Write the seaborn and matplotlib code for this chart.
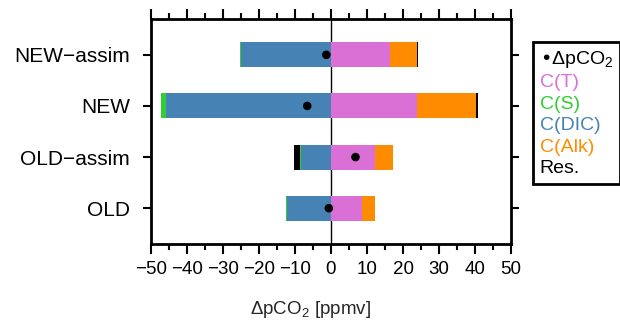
import numpy as np
import pandas as pd
import matplotlib
matplotlib.use("Agg")
import matplotlib.pyplot as plt
import seaborn as sns
from matplotlib.lines import Line2D
from matplotlib.ticker import MultipleLocator

# experiments, top to bottom
runs = ["NEW\u2212assim", "NEW", "OLD\u2212assim", "OLD"]
c_T = [16.3, 23.8, 12.3, 8.5]
c_S = [-0.3, -1.3, -0.4, -0.3]
c_DIC = [-24.9, -45.9, -8.2, -12.2]
c_Alk = [7.5, 16.4, 4.8, 3.6]
res = [0.3, 0.7, -1.6, 0.0]
dpco2 = [-1.3, -6.6, 6.8, -0.6]

col_T = "#DA70D6"
col_S = "#32CD32"
col_DIC = "#4682B4"
col_Alk = "#FF8C00"
col_res = "black"

df = pd.DataFrame({"run": runs, "T": c_T, "S": c_S, "DIC": c_DIC,
                   "Alk": c_Alk, "Res": res, "dpco2": dpco2})
# cumulative ends for overlaid bars (positive and negative sides)
df["pos_T"] = df["T"]
df["pos_Alk"] = df["T"] + df["Alk"]
df["pos_Res"] = df["pos_Alk"] + df["Res"].clip(lower=0)
df["neg_DIC"] = df["DIC"]
df["neg_S"] = df["DIC"] + df["S"]
df["neg_Res"] = df["neg_S"] + df["Res"].clip(upper=0)

sns.set_theme(style="ticks")
plt.rcParams["font.family"] = ["Liberation Sans", "DejaVu Sans"]
plt.rcParams["mathtext.default"] = "regular"

fig = plt.figure(figsize=(6.2, 3.2), dpi=100)
ax = fig.add_axes([151 / 620, 76 / 320, 360 / 620, 225 / 320])

layers = [("pos_Res", col_res), ("pos_Alk", col_Alk), ("pos_T", col_T),
          ("neg_Res", col_res), ("neg_S", col_S), ("neg_DIC", col_DIC)]
for key, c in layers:
    sns.barplot(data=df, x=key, y="run", order=runs, orient="h", color=c,
                width=0.49, linewidth=0, saturation=1, ax=ax, zorder=2)

ax.axvline(0, color="black", lw=1, zorder=1)
sns.scatterplot(data=df, x="dpco2", y="run", color="black", s=38,
                edgecolor="none", ax=ax, zorder=5)

ax.set_xlim(-50, 50)
ax.set_ylim(3.7, -0.7)
ax.xaxis.set_major_locator(MultipleLocator(10))
ax.xaxis.set_minor_locator(MultipleLocator(5))
ax.tick_params(axis="both", which="both", direction="out", width=1.5,
               top=True, right=True, colors="black")
ax.tick_params(axis="x", which="major", length=7.5, labelsize=13.5, pad=4.5)
ax.tick_params(axis="x", which="minor", length=4)
ax.tick_params(axis="y", which="major", length=6, labelsize=15, pad=9)
for sp in ax.spines.values():
    sp.set_visible(True)
    sp.set_linewidth(2)
    sp.set_color("black")
ax.set_ylabel("")
ax.set_xlabel("")
fig.text(311 / 620, 1 - 314 / 320, "\u0394pCO$_2$ [ppmv]", fontsize=13.5,
         ha="center", va="baseline")

handles = [Line2D([], [], linestyle="none") for _ in range(6)]
labels = ["\u2022\u0394pCO$_2$", "C(T)", "C(S)", "C(DIC)", "C(Alk)", "Res."]
leg = fig.legend(handles, labels, loc="upper left",
                 bbox_to_anchor=(533 / 620, 1 - 42 / 320), borderaxespad=0,
                 handlelength=0, handletextpad=0, fontsize=14,
                 labelspacing=0.2, fancybox=False, framealpha=1,
                 edgecolor="black", borderpad=0.35)
leg.get_frame().set_linewidth(2)
for t, c in zip(leg.get_texts(), ["black", col_T, col_S, col_DIC, col_Alk, col_res]):
    t.set_color(c)

fig.savefig("out.png", dpi=100)
